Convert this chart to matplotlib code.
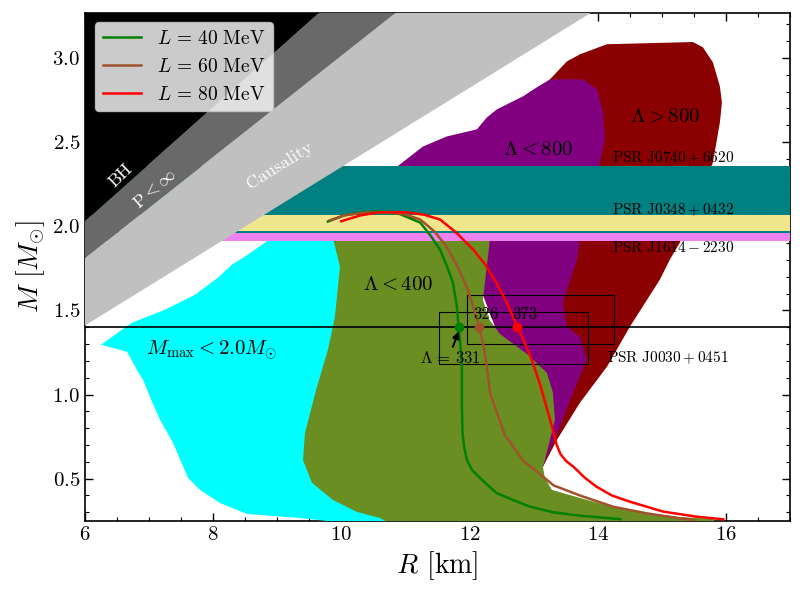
import matplotlib
matplotlib.use('Agg')
import matplotlib.pyplot as plt
from matplotlib.patches import Rectangle

plt.rcParams['font.family'] = 'serif'
plt.rcParams['font.serif'] = ['cmr10']
plt.rcParams['mathtext.fontset'] = 'cm'
plt.rcParams['axes.formatter.use_mathtext'] = True
plt.rcParams['axes.unicode_minus'] = False

# limits (BH, P<inf, causality) as straight lines in the M-R plane
lim_R = [6.0, 17.0]
lim_bh = [2.03, 5.76]
lim_buch = [1.81, 5.12]
lim_caus = [1.41, 4.0]

# tidal deformability / Mmax regions (outlines)
cyan_R = [6.25, 6.655, 6.827, 6.905, 7.045, 7.17, 7.373, 7.607, 7.794, 8.106, 8.527,
          9.354, 10.9, 10.9, 8.917, 8.808, 8.496, 8.293, 8.075, 7.716, 7.248, 6.733]
cyan_M = [1.296, 1.254, 1.135, 1.088, 0.957, 0.85, 0.713, 0.504, 0.433, 0.355, 0.29,
          0.266, 0.2, 1.933, 1.933, 1.903, 1.82, 1.772, 1.695, 1.593, 1.504, 1.427]

olive_R = [9.869, 9.978, 9.9, 9.791, 9.619, 9.432, 9.401, 9.541, 9.869, 10.243, 10.602,
           10.914, 15.95, 15.797, 15.282, 14.768, 14.237, 13.722, 13.285, 13.176, 13.145,
           13.176, 13.254, 13.332, 13.301, 13.207, 12.9, 12.474, 12.3, 12.209, 12.318, 12.318]
olive_M = [1.93, 1.76, 1.463, 1.266, 1.046, 0.772, 0.611, 0.475, 0.373, 0.302, 0.266,
           0.2, 0.2, 0.26, 0.272, 0.296, 0.332, 0.385, 0.433, 0.504, 0.570,
           0.611, 0.730, 0.850, 1.010, 1.129, 1.24, 1.36, 1.45, 1.564, 1.921, 1.93]

purple_R = [10.82, 11.273, 11.647, 12.115, 12.271, 12.427, 12.833, 13.051, 13.254, 13.769,
            13.988, 14.081, 14.112, 14.034, 13.722, 13.676, 13.457, 13.519, 13.722, 13.832,
            13.613, 13.41, 13.207, 13.145, 12.8, 12.5, 12.2, 12.2]
purple_M = [2.34, 2.474, 2.534, 2.576, 2.647, 2.695, 2.772, 2.826, 2.873, 2.873,
            2.814, 2.677, 2.516, 2.379, 1.921, 1.802, 1.546, 1.403, 1.343, 1.207,
            1.010, 0.808, 0.629, 0.570, 0.9, 1.3, 1.6, 1.93]

darkred_R = [13.254, 13.519, 13.722, 14.144, 15.485, 15.641, 15.797, 15.906, 15.938, 15.906,
             15.797, 15.282, 15.126, 14.97, 14.502, 14.144, 13.722, 13.363, 13.145,
             13.0, 12.8, 13.0]
darkred_M = [2.873, 2.980, 3.022, 3.082, 3.095, 3.064, 2.974, 2.832, 2.736, 2.617,
             2.379, 1.903, 1.802, 1.683, 1.403, 1.165, 0.951, 0.730, 0.570,
             1.0, 2.0, 2.6]

# pulsar mass bands (low, high)
band_J0740 = (1.957, 2.356)
band_J0348 = (1.97, 2.064)
band_J1614 = (1.911, 1.957)

# NICER J0030+0451 boxes: (R_low, M_low, R_high, M_high)
box_riley = (11.52, 1.18, 13.85, 1.49)
box_miller = (11.96, 1.30, 14.26, 1.59)

# M-R curves
L_values = [40, 60, 80]
green_R = [9.79, 10.05, 10.32, 10.60, 10.91, 11.23, 11.40, 11.54, 11.65, 11.74, 11.80,
           11.83, 11.86, 11.88, 11.88, 11.89, 11.92, 11.96, 12.04, 12.16, 12.42, 12.68,
           12.94, 13.3, 13.72, 14.35]
green_M = [2.028, 2.066, 2.081, 2.088, 2.073, 2.022, 1.94, 1.861, 1.76, 1.665, 1.53,
           1.40, 1.28, 1.165, 0.95, 0.77, 0.68, 0.611, 0.55, 0.505, 0.414, 0.373,
           0.334, 0.30, 0.28, 0.259]
brown_R = [9.82, 10.05, 10.34, 10.76, 11.0, 11.23, 11.45, 11.64, 11.80, 11.955, 12.06,
           12.15, 12.21, 12.27, 12.32, 12.42, 12.55, 12.68, 12.85, 13.02, 13.31, 13.72,
           14.24, 14.76, 15.28, 15.49]
brown_M = [2.035, 2.065, 2.08, 2.082, 2.07, 2.04, 1.97, 1.88, 1.77, 1.643, 1.52,
           1.40, 1.306, 1.167, 1.008, 0.90, 0.76, 0.69, 0.60, 0.552, 0.46, 0.40,
           0.333, 0.294, 0.264, 0.254]
red_R = [10.0, 10.3, 10.6, 11.02, 11.30, 11.54, 11.80, 12.06, 12.25, 12.42, 12.60,
         12.74, 12.87, 12.97, 13.10, 13.22, 13.30, 13.36, 13.42, 13.51, 13.62, 13.80,
         13.98, 14.22, 14.50, 15.02, 15.54, 15.96]
red_M = [2.03, 2.065, 2.083, 2.083, 2.068, 2.04, 1.96, 1.86, 1.77, 1.663, 1.53,
         1.409, 1.30, 1.207, 1.06, 0.90, 0.79, 0.70, 0.645, 0.603, 0.571, 0.505,
         0.452, 0.40, 0.363, 0.304, 0.274, 0.258]
dot_R = [11.83, 12.15, 12.74]
dot_M = 1.4
lam14 = [331, 326, 373]

fig = plt.figure(figsize=(8, 6), dpi=100)
ax = fig.add_axes([0.10625, 0.1322, 0.88125, 0.8468])

ax.fill(darkred_R, darkred_M, color='darkred', lw=0, zorder=1)
ax.fill(purple_R, purple_M, color='purple', lw=0, zorder=2)
ax.fill(cyan_R, cyan_M, color='cyan', lw=0, zorder=3)
ax.fill(olive_R, olive_M, color='olivedrab', lw=0, zorder=4)

ax.axhspan(*band_J0740, color='teal', lw=0, zorder=5)
ax.axhspan(*band_J0348, color='khaki', lw=0, zorder=6)
ax.axhspan(*band_J1614, color='violet', lw=0, zorder=7)

ax.fill_between(lim_R, lim_caus, lim_buch, color='silver', lw=0, zorder=8)
ax.fill_between(lim_R, lim_buch, lim_bh, color='dimgray', lw=0, zorder=9)
ax.fill_between(lim_R, lim_bh, [8, 8], color='black', lw=0, zorder=10)

ax.text(6.55, 2.30, 'BH', color='white', fontsize=13, rotation=44,
        ha='center', va='center', zorder=11)
ax.text(7.09, 2.22, r'$\mathrm{P} < \infty$', color='white', fontsize=13, rotation=41,
        ha='center', va='center', zorder=11)
ax.text(9.04, 2.36, 'Causality', color='white', fontsize=13, rotation=32,
        ha='center', va='center', zorder=11)

ax.text(15.05, 2.65, r'$\Lambda > 800$', fontsize=15, ha='center', va='center', zorder=11)
ax.text(13.07, 2.456, r'$\Lambda < 800$', fontsize=15, ha='center', va='center', zorder=11)
ax.text(10.88, 1.65, r'$\Lambda < 400$', fontsize=15, ha='center', va='center', zorder=11)
ax.text(7.98, 1.265, r'$M_{\rm max} < 2.0 M_{\odot}$', fontsize=15,
        ha='center', va='center', zorder=11)

ax.text(14.22, 2.41, r'$\rm PSR\ J0740+6620$', fontsize=11, va='center', zorder=11)
ax.text(14.22, 2.10, r'$\rm PSR\ J0348+0432$', fontsize=11, va='center', zorder=11)
ax.text(14.22, 1.873, r'$\rm PSR\ J1614-2230$', fontsize=11, va='center', zorder=11)
ax.text(14.14, 1.219, r'$\rm PSR\ J0030+0451$', fontsize=11, va='center', zorder=11)

ax.axhline(1.4, color='k', lw=1.2, zorder=12)
for b in [box_riley, box_miller]:
    ax.add_patch(Rectangle((b[0], b[1]), b[2] - b[0], b[3] - b[1], fill=False,
                           ec='k', lw=0.8, zorder=12))

colors = ['green', 'sienna', 'red']
curves = [(green_R, green_M), (brown_R, brown_M), (red_R, red_M)]
for (cR, cM), c, L in zip(curves, colors, L_values):
    ax.plot(cR, cM, color=c, lw=1.8, zorder=13, label=r'$L\,=\,%d\ \mathrm{MeV}$' % L)
for r, c in zip(dot_R, colors):
    ax.plot(r, dot_M, 'o', color=c, ms=6, zorder=14)

ax.text(12.05, 1.45, '%d' % lam14[1], fontsize=12, zorder=14)
ax.text(12.66, 1.45, '%d' % lam14[2], fontsize=12, zorder=14)
ax.text(11.70, 1.218, r'$\Lambda\,=\,%d$' % lam14[0], fontsize=12,
        ha='center', va='center', zorder=14)
ax.annotate('', xy=(11.83, 1.375), xytext=(11.74, 1.283), zorder=14,
            arrowprops=dict(arrowstyle='-|>', color='k', lw=1.4, shrinkA=0, shrinkB=0,
                            mutation_scale=10))

ax.set_xlim(6, 17)
ax.set_ylim(0.25, 3.27)
ax.set_xticks([6, 8, 10, 12, 14, 16])
ax.set_yticks([0.5, 1.0, 1.5, 2.0, 2.5, 3.0])
ax.set_xticks([6 + 0.5 * i for i in range(23)], minor=True)
ax.set_yticks([0.3 + 0.1 * i for i in range(30)], minor=True)
ax.tick_params(which='both', direction='in', top=True, right=True, labelsize=15)
ax.tick_params(which='major', length=6, width=1)
ax.tick_params(which='minor', length=3, width=0.8)
for s in ax.spines.values():
    s.set_linewidth(1.2)

ax.set_xlabel(r'$R$ [km]', fontsize=20)
ax.set_ylabel(r'$M\ [M_{\odot}]$', fontsize=20)

leg = ax.legend(loc='upper left', fontsize=14)
leg.set_zorder(20)

fig.savefig('out.png', dpi=100)
